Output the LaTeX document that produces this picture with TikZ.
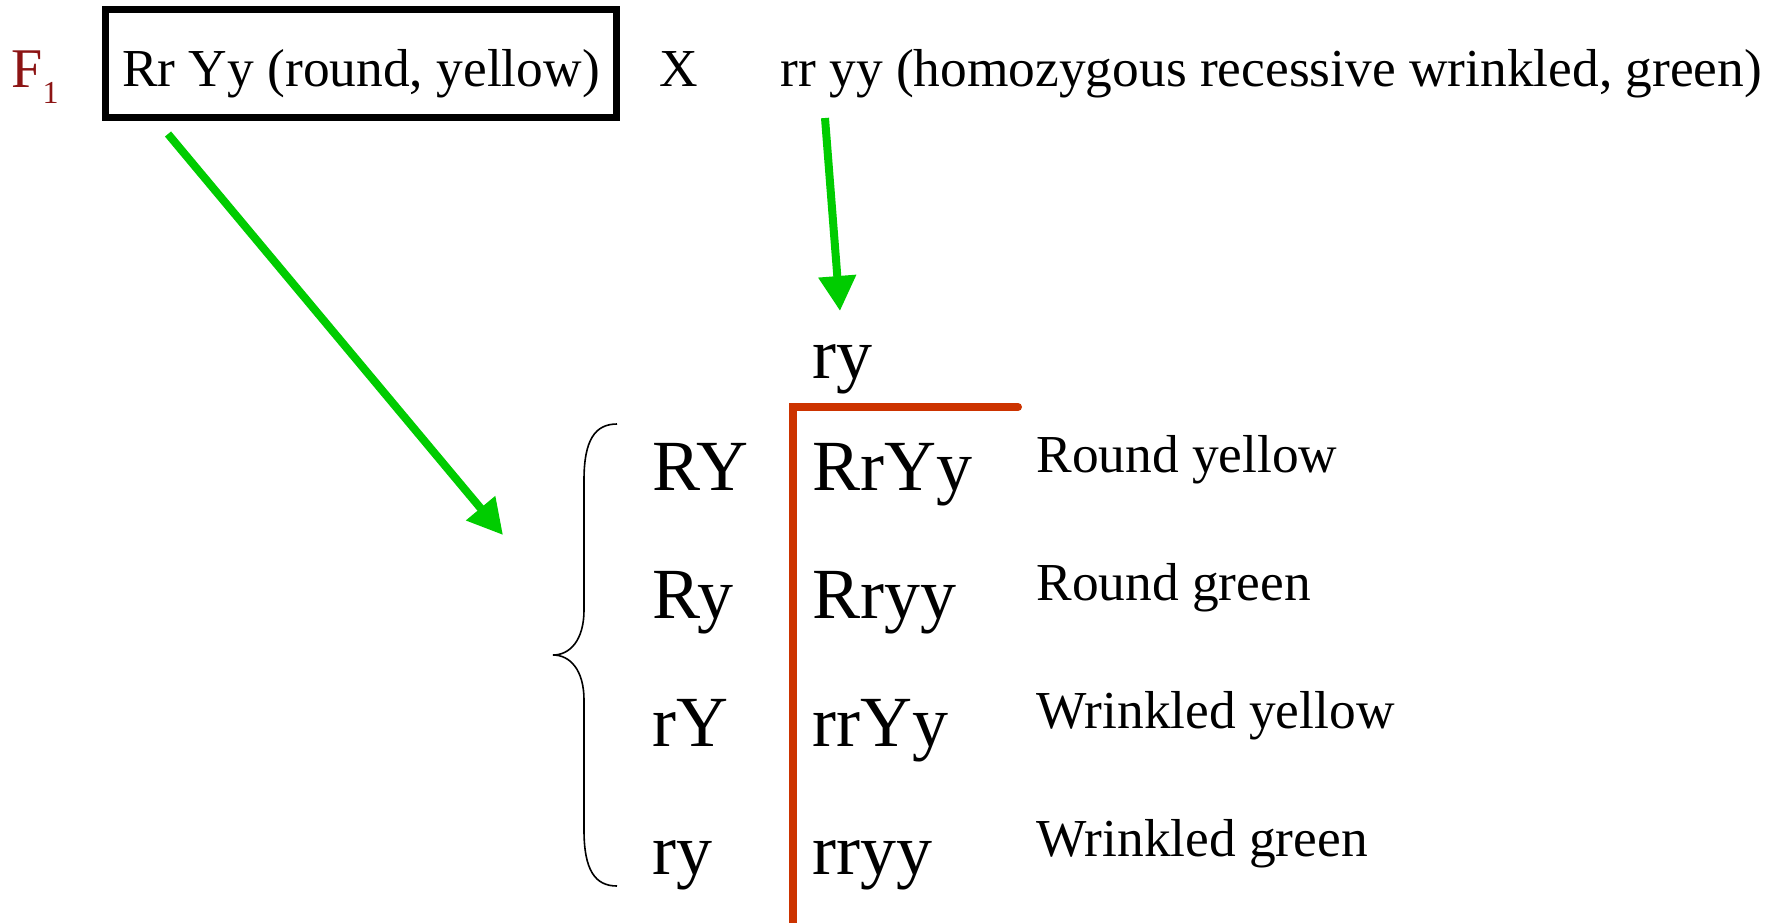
\documentclass[tikz,border=0pt]{standalone}
\usepackage{fontspec}
\setmainfont{Liberation Serif}
\usetikzlibrary{arrows.meta}
\definecolor{arrowgreen}{RGB}{0,204,0}
\definecolor{gridred}{RGB}{204,51,0}
\definecolor{fonered}{RGB}{140,20,20}
\tikzset{
  txt/.style={inner sep=0pt, font=\fontsize{26.7}{32}\selectfont},
  gam/.style={inner sep=0pt, anchor=base west, font=\fontsize{36}{42}\selectfont},
  garrow/.style={arrowgreen, line width=4pt, -{Triangle[length=17.5pt,width=18pt]}}
}
\begin{document}
\begin{tikzpicture}[x=0.5pt,y=-0.5pt]
\useasboundingbox (0,0) rectangle (1781,922);
% the cross
\node[txt, anchor=base west, fonered, font=\fontsize{28}{32}\selectfont] (fone) at (11,87) {F\raisebox{-0.3em}{\fontsize{16}{18}\selectfont 1}};
\node[txt, draw, line width=3.5pt, inner xsep=8.5pt, text height=38.5pt, text depth=15.5pt, anchor=base] (cross1) at (361,86) {Rr Yy (round, yellow)};
\node[txt, anchor=base] (cross) at (679,86) {X};
\node[txt, anchor=base west] (cross2) at (780,86) {rr yy (homozygous recessive wrinkled, green)};
\node[gam] (ry0) at (812,378) {ry};
% gametes arrows
\coordinate (a1s) at (168,134);
\coordinate (a1e) at (503,535);
\coordinate (a2s) at (825,118);
\coordinate (a2e) at (840,311);
\draw[garrow] (a1s) -- (a1e);
\draw[garrow] (a2s) -- (a2e);
% square lines
\coordinate (corner) at (793,407);
\coordinate (hend) at (1018,407);
\coordinate (vend) at (793,925);
\draw[gridred, line width=4pt, line cap=round] (hend) -- (corner) -- (vend);
% brace
\draw[line width=0.8pt] (617,424) .. controls (595,424) and (584,440) .. (584,480) -- (584,610)
  .. controls (584,640) and (570,655) .. (553,655) .. controls (570,655) and (584,670) .. (584,700)
  -- (584,830) .. controls (584,870) and (595,886) .. (617,886);
% rows
\foreach \g/\o/\p [count=\i] in {RY/RrYy/Round yellow, Ry/Rryy/Round green, rY/rrYy/Wrinkled yellow, ry/rryy/Wrinkled green}
{
\node[gam] (g\i) at (652,{362+128*\i}) {\g};
\node[gam] (o\i) at (812,{362+128*\i}) {\o};
\node[txt, anchor=base west] (p\i) at (1036,{344+128*\i}) {\p};
}
\end{tikzpicture}
\end{document}
